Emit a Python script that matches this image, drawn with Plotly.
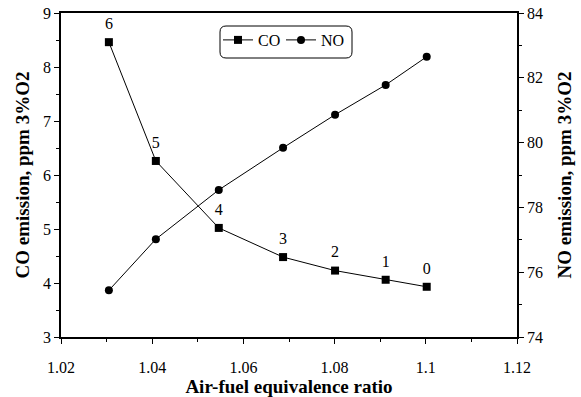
import plotly.graph_objects as go

# Air-fuel equivalence ratio at each operating point
ratio = [1.0305, 1.0408, 1.0546, 1.0687, 1.0801, 1.0912, 1.1002]
# CO emission (left axis), ppm at 3% O2
co = [8.46, 6.26, 5.02, 4.48, 4.23, 4.06, 3.93]
# NO emission (right axis), ppm at 3% O2
no = [75.44, 77.02, 78.54, 79.84, 80.86, 81.78, 82.65]
# Point labels written above the CO markers
point_labels = ["6", "5", "4", "3", "2", "1", "0"]

x_ticks = [1.02, 1.04, 1.06, 1.08, 1.10, 1.12]
x_ticktext = ["1.02", "1.04", "1.06", "1.08", "1.1", "1.12"]

FONT = "Liberation Serif, Times New Roman, serif"

fig = go.Figure()

fig.add_trace(go.Scatter(
    x=ratio, y=co, name="CO", mode="lines+markers",
    line=dict(color="black", width=1),
    marker=dict(symbol="square", size=8, color="black"),
))
# labels: an invisible, larger marker pushes the text further above each point
fig.add_trace(go.Scatter(
    x=ratio, y=co, mode="markers+text", text=point_labels, textposition="top center",
    marker=dict(size=13, opacity=0),
    textfont=dict(family=FONT, size=16, color="black"),
    showlegend=False, hoverinfo="skip",
))
fig.add_trace(go.Scatter(
    x=ratio, y=no, name="NO", mode="lines+markers", yaxis="y2",
    line=dict(color="black", width=1),
    marker=dict(symbol="circle", size=8, color="black"),
))

axis_common = dict(
    showgrid=False, zeroline=False, showline=True, linecolor="black", linewidth=1.5,
    ticks="outside", ticklen=5, tickwidth=1, tickcolor="black",
    tickfont=dict(family=FONT, size=16, color="black"), automargin=False,
)
minor_common = dict(ticks="outside", ticklen=3, tickcolor="black", tickwidth=1)

fig.update_layout(
    width=581, height=397,
    margin=dict(l=61, r=64, t=13, b=60),
    paper_bgcolor="white", plot_bgcolor="white",
    font=dict(family=FONT, size=16, color="black"),
    xaxis=dict(
        range=[1.02, 1.12], tickvals=x_ticks, ticktext=x_ticktext,
        mirror=True, ticklabelstandoff=10,
        minor=dict(dtick=0.01, **minor_common),
        title=dict(text="<b>Air-fuel equivalence ratio</b>", font=dict(family=FONT, size=19), standoff=6),
        **axis_common,
    ),
    yaxis=dict(
        range=[3, 9], dtick=1,
        minor=dict(dtick=0.5, **minor_common),
        title=dict(text="<b>CO emission, ppm 3%O2</b>", font=dict(family=FONT, size=19), standoff=8),
        **axis_common,
    ),
    yaxis2=dict(
        range=[74, 84], dtick=2, overlaying="y", side="right",
        minor=dict(dtick=1, **minor_common),
        title=dict(text="<b>NO emission, ppm 3%O2</b>", font=dict(family=FONT, size=19), standoff=16),
        **axis_common,
    ),
    legend=dict(
        orientation="h", x=(218 - 61) / 456, y=(337 - 23) / 324,
        xanchor="left", yanchor="top",
        bgcolor="rgba(0,0,0,0)", borderwidth=0,
        font=dict(family=FONT, size=16, color="black"),
        itemwidth=30, entrywidth=18,
    ),
    showlegend=True,
)

# Rounded frame around the legend
x0, x1 = (220 - 61) / 456, (352 - 61) / 456
y0, y1 = (337 - 58) / 324, (337 - 26) / 324
rx, ry = 6 / 456, 6 / 324
path = (
    f"M{x0 + rx},{y0} L{x1 - rx},{y0} Q{x1},{y0} {x1},{y0 + ry} "
    f"L{x1},{y1 - ry} Q{x1},{y1} {x1 - rx},{y1} "
    f"L{x0 + rx},{y1} Q{x0},{y1} {x0},{y1 - ry} "
    f"L{x0},{y0 + ry} Q{x0},{y0} {x0 + rx},{y0} Z"
)
fig.add_shape(type="path", path=path, xref="paper", yref="paper",
              line=dict(color="black", width=1), fillcolor="rgba(0,0,0,0)")

fig.write_html("out.html")
